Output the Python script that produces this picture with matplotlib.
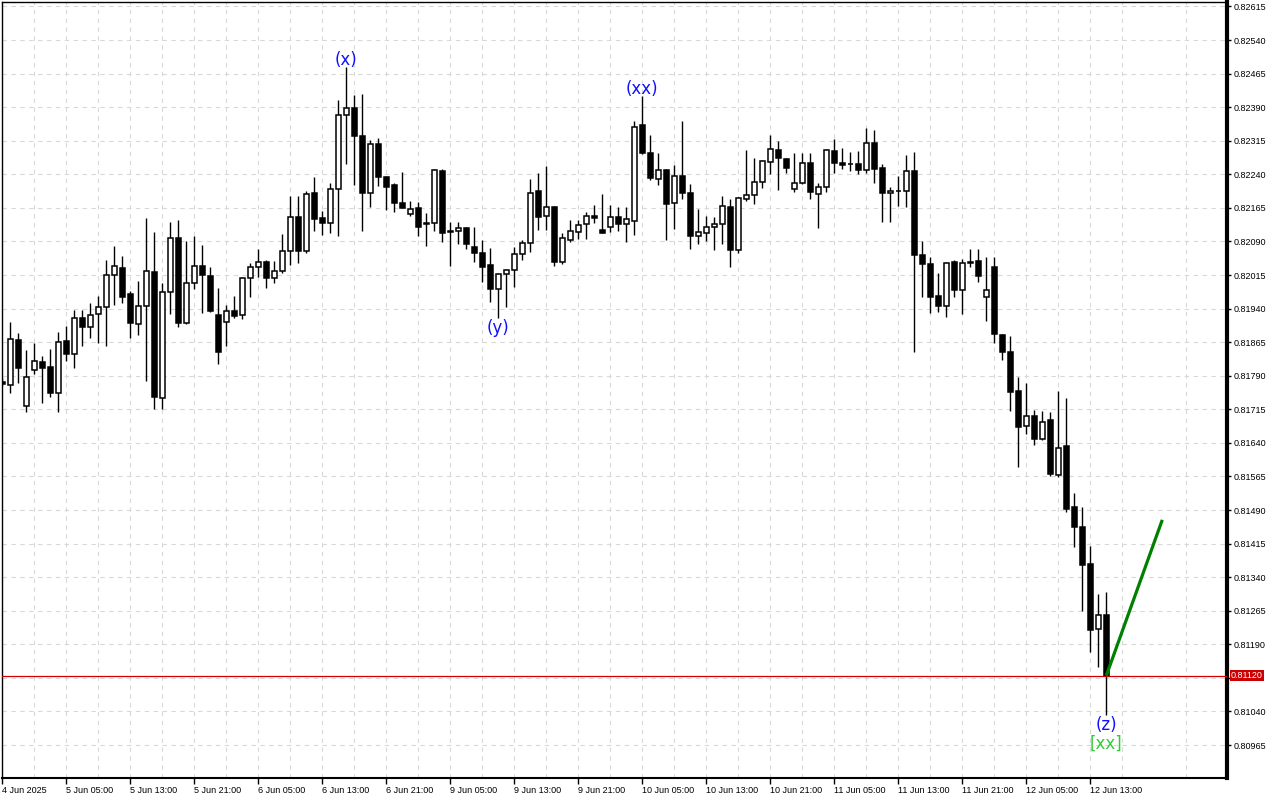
import matplotlib
matplotlib.use("Agg")
import matplotlib.pyplot as plt
import numpy as np

# H1 bars, prices in points (1 point = 0.00001)
opens = [81776, 81769, 81870, 81722, 81803, 81821, 81810, 81751, 81868, 81838,
         81919, 81899, 81928, 81943, 82015, 82031, 81973, 81906, 81946, 82022,
         81740, 81977, 82098, 81908, 81997, 82035, 82013, 81926, 81910, 81935,
         81926, 82008, 82033, 82044, 82008, 82024, 82069, 82145, 82069, 82198,
         82142, 82131, 82207, 82372, 82388, 82326, 82198, 82308, 82234, 82216,
         82176, 82151, 82165, 82131, 82131, 82247, 82113, 82113, 82120, 82078,
         82064, 82037, 81984, 82017, 82026, 82062, 82086, 82203, 82147, 82167,
         82044, 82093, 82111, 82129, 82147, 82115, 82122, 82145, 82129, 82136,
         82350, 82288, 82229, 82250, 82176, 82236, 82198, 82102, 82109, 82122,
         82129, 82167, 82071, 82185, 82194, 82223, 82267, 82294, 82274, 82207,
         82220, 82265, 82196, 82212, 82292, 82265, 82263, 82263, 82250, 82310,
         82254, 82198, 82203, 82203, 82247, 82060, 82040, 81968, 81946, 82044,
         81982, 82044, 82046, 81966, 82033, 81881, 81843, 81756, 81678, 81700,
         81649, 81691, 81568, 81633, 81497, 81452, 81369, 81224, 81255]
highs = [81785, 81910, 81885, 81848, 81863, 81834, 81850, 81888, 81901, 81937,
         81937, 81952, 81968, 82048, 82080, 82057, 81979, 82002, 82142, 82111,
         81997, 82133, 82138, 82091, 82102, 82082, 82033, 81986, 81948, 81968,
         82010, 82042, 82073, 82048, 82046, 82107, 82192, 82192, 82203, 82234,
         82158, 82220, 82406, 82480, 82417, 82419, 82317, 82321, 82236, 82220,
         82245, 82180, 82178, 82153, 82252, 82252, 82133, 82133, 82122, 82122,
         82093, 82075, 82020, 82028, 82078, 82093, 82229, 82243, 82258, 82169,
         82109, 82138, 82138, 82156, 82171, 82196, 82171, 82167, 82167, 82359,
         82415, 82328, 82288, 82252, 82261, 82359, 82218, 82162, 82147, 82145,
         82192, 82185, 82189, 82294, 82276, 82272, 82328, 82314, 82276, 82288,
         82288, 82288, 82220, 82296, 82319, 82299, 82290, 82292, 82343, 82339,
         82263, 82212, 82236, 82283, 82290, 82091, 82055, 82020, 82044, 82048,
         82051, 82073, 82073, 82055, 82055, 81883, 81879, 81787, 81774, 81713,
         81711, 81709, 81756, 81740, 81528, 81497, 81410, 81302, 81307]
lows = [81767, 81751, 81774, 81709, 81794, 81729, 81742, 81709, 81823, 81807,
        81856, 81874, 81863, 81856, 81948, 81952, 81874, 81881, 81778, 81716,
        81716, 81928, 81899, 81906, 81984, 81930, 81932, 81816, 81856, 81919,
        81917, 81966, 82010, 81986, 81997, 82020, 82037, 82042, 82064, 82113,
        82104, 82109, 82102, 82263, 82216, 82113, 82167, 82214, 82160, 82156,
        82165, 82147, 82102, 82080, 82113, 82089, 82035, 82084, 82073, 82044,
        81999, 81955, 81919, 81943, 81988, 82048, 82066, 82115, 82115, 82035,
        82040, 82089, 82095, 82095, 82131, 82109, 82111, 82113, 82089, 82104,
        82286, 82227, 82216, 82093, 82118, 82185, 82073, 82084, 82091, 82071,
        82084, 82033, 82064, 82180, 82174, 82209, 82241, 82205, 82243, 82200,
        82218, 82185, 82120, 82200, 82243, 82252, 82247, 82241, 82243, 82220,
        82133, 82133, 82169, 82167, 81843, 81966, 81930, 81932, 81921, 81966,
        81928, 82033, 81999, 81912, 81863, 81825, 81711, 81586, 81660, 81635,
        81647, 81566, 81564, 81486, 81407, 81264, 81173, 81139, 81032]
closes = [81771, 81872, 81807, 81787, 81823, 81807, 81751, 81865, 81838, 81919,
          81899, 81926, 81943, 82015, 82035, 81966, 81908, 81946, 82024, 81742,
          81977, 82098, 81908, 81997, 82035, 82015, 81935, 81843, 81935, 81923,
          82008, 82033, 82044, 82008, 82024, 82069, 82145, 82069, 82196, 82140,
          82131, 82207, 82372, 82388, 82326, 82198, 82308, 82234, 82212, 82176,
          82165, 82162, 82122, 82129, 82250, 82109, 82111, 82120, 82084, 82064,
          82033, 81984, 82017, 82026, 82062, 82086, 82198, 82145, 82167, 82044,
          82098, 82113, 82127, 82147, 82142, 82109, 82145, 82129, 82140, 82346,
          82288, 82232, 82250, 82174, 82236, 82198, 82102, 82111, 82122, 82129,
          82169, 82071, 82187, 82194, 82223, 82270, 82296, 82276, 82254, 82220,
          82265, 82200, 82212, 82294, 82265, 82261, 82263, 82250, 82310, 82252,
          82198, 82203, 82203, 82247, 82060, 82040, 81966, 81946, 82042, 81982,
          82042, 82042, 82013, 81982, 81883, 81843, 81754, 81675, 81700, 81649,
          81687, 81570, 81629, 81492, 81452, 81367, 81222, 81255, 81120]

time_labels = ["4 Jun 2025", "5 Jun 05:00", "5 Jun 13:00", "5 Jun 21:00",
               "6 Jun 05:00", "6 Jun 13:00", "6 Jun 21:00", "9 Jun 05:00",
               "9 Jun 13:00", "9 Jun 21:00", "10 Jun 05:00", "10 Jun 13:00",
               "10 Jun 21:00", "11 Jun 05:00", "11 Jun 13:00", "11 Jun 21:00",
               "12 Jun 05:00", "12 Jun 13:00"]
label_step = 8

current_price = 0.81120
projection_bars = [138, 145]
projection_prices = [0.81120, 0.81468]

# (bar, text, placed above the high?)
wave_marks = [(43, "(x)", True), (80, "(xx)", True), (62, "(y)", False), (138, "(z)", False)]

o = np.array(opens) / 1e5
h = np.array(highs) / 1e5
l = np.array(lows) / 1e5
c = np.array(closes) / 1e5
idx = np.arange(len(o))

fig = plt.figure(figsize=(12.8, 8), dpi=100)
ax = fig.add_axes([2 / 1280, 22 / 800, 1225 / 1280, 776 / 800])
ax.set_xlim(-0.04, 153.09)
ax.set_ylim(0.808913, 0.826249)

# grid
yt = np.round(np.arange(0.80965, 0.82616, 0.00075), 5)
ax.set_yticks(yt)
ax.set_yticklabels([f"{v:.5f}" for v in yt])
ax.set_xticks(np.arange(0, len(time_labels) * label_step, label_step))
ax.set_xticklabels(time_labels)
ax.set_xticks(np.arange(4, 153, label_step), minor=True)
ax.grid(True, which="both", color="#d8d8d8", linestyle=(0, (4, 4)), linewidth=0.8)
ax.set_axisbelow(True)

# candles
up = c >= o
ax.vlines(idx, l, h, color="black", linewidth=1, zorder=2)
ax.bar(idx, np.abs(c - o), bottom=np.minimum(o, c), width=0.62,
       color=np.where(up, "white", "black"), edgecolor="black", linewidth=1.1, zorder=3)

# current price line + label
ax.axhline(current_price, color="#d00000", linewidth=0.9, zorder=4)
ax.text(1.0 + 4 / 1225, current_price, f"{current_price:.5f}", transform=ax.get_yaxis_transform(),
        ha="left", va="center", color="white", fontsize=6.5, family="Liberation Sans",
        bbox=dict(boxstyle="square,pad=0.15", fc="#cc0000", ec="none"), clip_on=False, zorder=6)

# projection
ax.plot(projection_bars, projection_prices, color="#008000", linewidth=2.3, zorder=5,
        solid_capstyle="butt")

for bar, txt, above in wave_marks:
    if above:
        ax.annotate(txt, (bar, h[bar]), xytext=(0, -1.8), textcoords="offset points",
                    ha="center", va="bottom", color="#1010ff", fontsize=12)
    else:
        ax.annotate(txt, (bar, l[bar]), xytext=(0, -0.5), textcoords="offset points",
                    ha="center", va="top", color="#1010ff", fontsize=12)
ax.annotate("[xx]", (138, l[138]), xytext=(0, -14), textcoords="offset points",
            ha="center", va="top", color="#33cc33", fontsize=12)

# axes styling
ax.yaxis.tick_right()
ax.tick_params(axis="y", which="major", direction="out", length=3, width=1, pad=2,
               labelsize=6.5)
ax.tick_params(axis="x", which="major", direction="out", length=4, width=1, pad=2,
               labelsize=6.5)
ax.tick_params(axis="x", which="minor", length=0)
for lab in ax.get_xticklabels() + ax.get_yticklabels():
    lab.set_family("Liberation Sans")
for lab in ax.get_xticklabels():
    lab.set_horizontalalignment("left")
for side in ["left", "top"]:
    ax.spines[side].set_linewidth(1)
ax.spines["bottom"].set_linewidth(1.5)
ax.spines["right"].set_linewidth(3)

fig.savefig("out.png", dpi=100, facecolor="white")
